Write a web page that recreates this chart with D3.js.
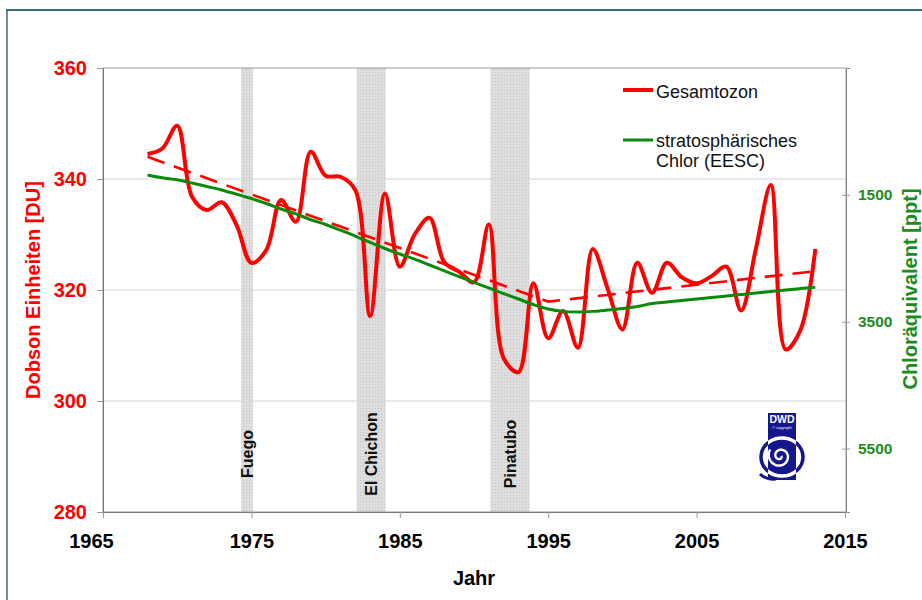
<!DOCTYPE html>
<html>
<head>
<meta charset="utf-8">
<script src="https://cdn.jsdelivr.net/npm/d3@7/dist/d3.min.js"></script>
<style>
  html, body { margin: 0; padding: 0; background: #fff; }
  svg { display: block; font-family: "Liberation Sans", Arial, sans-serif; }
</style>
</head>
<body>
<svg id="chart" width="922" height="600"></svg>
<script>
/* ============================================
   DATA
   ============================================ */

const years = [1968, 1969, 1970, 1971, 1972, 1973, 1974, 1975, 1976, 1977,
               1978, 1979, 1980, 1981, 1982, 1983, 1984, 1985, 1986, 1987,
               1988, 1989, 1990, 1991, 1992, 1993, 1994, 1995, 1996, 1997,
               1998, 1999, 2000, 2001, 2002, 2003, 2004, 2005, 2006, 2007,
               2008, 2009, 2010, 2011, 2012, 2013];

// Gesamtozon [DU]
const ozone = [344.5, 345.5, 349.6, 336.8, 334.4, 335.8, 331.7, 324.9, 327.2, 336.2,
               332.3, 344.9, 340.6, 340.4, 338.0, 315.3, 337.4, 324.2, 330.0, 333.0,
               325.0, 323.3, 321.4, 331.8, 307.7, 305.2, 321.2, 311.3, 316.2, 309.6,
               327.4, 320.3, 312.9, 324.9, 319.5, 324.9, 322.3, 321.2, 322.5, 324.2,
               316.3, 327.5, 338.9, 309.3, 312.8, 327.4];

// stratosphärisches Chlor (EESC) [ppt], secondary axis (inverted)
const eesc = [1187, 1230, 1263, 1313, 1368, 1423, 1490, 1557, 1636, 1723,
              1799, 1892, 1967, 2057, 2149, 2251, 2346, 2432, 2514, 2606,
              2697, 2789, 2880, 2968, 3056, 3142, 3229, 3300, 3337, 3345,
              3337, 3316, 3292, 3261, 3214, 3190, 3166, 3142, 3119, 3095,
              3071, 3047, 3024, 3000, 2978, 2958];

// piecewise linear ozone trend (dashed)
const trendYears = [1968, 1995, 2013];
const trendOzone = [344.0, 317.9, 323.4];

// volcanic eruptions (shaded periods)
const volcanoNames = ['Fuego', 'El Chichon', 'Pinatubo'];
const volcanoStart = [1974.3, 1982.1, 1991.1];
const volcanoEnd = [1975.1, 1984.05, 1993.75];

const yearTicks = [1965, 1975, 1985, 1995, 2005, 2015];
const duTicks = [280, 300, 320, 340, 360];
const pptTicks = [1500, 3500, 5500];

const legendLabels = [['Gesamtozon'], ['stratosphärisches', 'Chlor (EESC)']];

/* ============================================
   CHART
   ============================================ */

const Chart = (() => {
  const RED = '#ff0000';
  const GREEN = '#0a8a0a';
  const LABEL_GREEN = '#1c8c1c';
  const FONT = '"Liberation Sans", Arial, sans-serif';
  const left = 103, right = 846, top = 68, bottom = 512;

  let svg, x, yDU, yPpt;

  function init() {
    svg = d3.select('#chart');

    x = d3.scaleLinear().domain([1965, 2015]).range([left, 845]);
    yDU = d3.scaleLinear().domain([280, 360]).range([bottom, top]);
    yPpt = d3.scaleLinear().domain([-500, 6500]).range([top, bottom]);

    svg.append('rect').attr('width', 922).attr('height', 600).attr('fill', '#fff');

    // outer slide frame (top + left)
    svg.append('line')
      .attr('x1', 6).attr('x2', 922).attr('y1', 10).attr('y2', 10)
      .attr('stroke', '#3d6b81').attr('stroke-width', 2);
    svg.append('line')
      .attr('x1', 7).attr('x2', 7).attr('y1', 10).attr('y2', 600)
      .attr('stroke', '#3d6b81').attr('stroke-width', 1.5);

    // dotted fill for the volcano bands
    const defs = svg.append('defs');
    const pat = defs.append('pattern')
      .attr('id', 'dots')
      .attr('width', 3).attr('height', 3)
      .attr('patternUnits', 'userSpaceOnUse');
    pat.append('rect').attr('width', 3).attr('height', 3).attr('fill', '#dedede');
    pat.append('rect').attr('width', 1).attr('height', 1).attr('fill', '#c4c4c4');

    drawBands();
    drawGrid();
    drawSeries();
    drawAxes();
    drawLegend();
    drawLogo();
  }

  function drawBands() {
    const g = svg.append('g');
    volcanoNames.forEach((name, i) => {
      const x0 = x(volcanoStart[i]), x1 = x(volcanoEnd[i]);
      g.append('rect')
        .attr('x', x0).attr('y', top)
        .attr('width', x1 - x0).attr('height', bottom - top)
        .attr('fill', 'url(#dots)');
      const cx = (x0 + x1) / 2 + 6;
      g.append('text')
        .attr('transform', `translate(${cx},454) rotate(-90)`)
        .attr('text-anchor', 'middle')
        .attr('font-size', 16).attr('font-weight', 'bold')
        .attr('fill', '#111')
        .text(name);
    });
  }

  function drawGrid() {
    svg.append('g')
      .selectAll('line')
      .data(duTicks.filter(d => d > 280 && d < 360))
      .join('line')
      .attr('x1', left).attr('x2', right)
      .attr('y1', d => yDU(d)).attr('y2', d => yDU(d))
      .attr('stroke', '#d6d6d6').attr('stroke-width', 1);

    // plot area border
    svg.append('rect')
      .attr('x', left).attr('y', top)
      .attr('width', right - left).attr('height', bottom - top)
      .attr('fill', 'none').attr('stroke', '#9a9a9a').attr('stroke-width', 1);
  }

  function drawSeries() {
    const smooth = d3.line()
      .x(d => x(d[0]))
      .curve(d3.curveCatmullRom.alpha(0.5));

    // Gesamtozon
    svg.append('path')
      .datum(years.map((yr, i) => [yr, ozone[i]]))
      .attr('d', smooth.y(d => yDU(d[1])))
      .attr('fill', 'none').attr('stroke', RED)
      .attr('stroke-width', 4).attr('stroke-linejoin', 'round');

    // trend
    svg.append('path')
      .datum(trendYears.map((yr, i) => [yr, trendOzone[i]]))
      .attr('d', d3.line().x(d => x(d[0])).y(d => yDU(d[1])))
      .attr('fill', 'none').attr('stroke', RED)
      .attr('stroke-width', 2.6).attr('stroke-dasharray', '18,10');

    // EESC on the secondary axis
    svg.append('path')
      .datum(years.map((yr, i) => [yr, eesc[i]]))
      .attr('d', smooth.y(d => yPpt(d[1])))
      .attr('fill', 'none').attr('stroke', GREEN)
      .attr('stroke-width', 3);
  }

  function drawAxes() {
    const fmt = d3.format('d');

    const axisLeft = svg.append('g')
      .attr('transform', `translate(${left},0)`)
      .call(d3.axisLeft(yDU).tickValues(duTicks).tickFormat(fmt).tickSize(6).tickPadding(10));
    axisLeft.select('.domain').attr('stroke', '#777');
    axisLeft.selectAll('.tick line').attr('stroke', '#999');
    axisLeft.selectAll('.tick text')
      .attr('font-size', 20).attr('font-weight', 'bold')
      .attr('font-family', FONT)
      .attr('fill', RED);

    const axisBottom = svg.append('g')
      .attr('transform', `translate(0,${bottom})`)
      .call(d3.axisBottom(x).tickValues(yearTicks).tickFormat(fmt).tickSize(6).tickPadding(16));
    axisBottom.select('.domain').attr('stroke', '#777');
    axisBottom.selectAll('.tick line').attr('stroke', '#999');
    axisBottom.selectAll('.tick text')
      .attr('font-size', 20).attr('font-weight', 'bold')
      .attr('font-family', FONT)
      .attr('fill', '#000')
      .attr('dx', d => d === 1965 ? -12 : 0);

    const axisRight = svg.append('g')
      .attr('transform', `translate(${right},0)`)
      .call(d3.axisRight(yPpt).tickValues(pptTicks).tickFormat(fmt).tickSize(4).tickPadding(8));
    axisRight.select('.domain').attr('stroke', '#888');
    axisRight.selectAll('.tick line').attr('x1', -4).attr('stroke', '#999');
    axisRight.selectAll('.tick text')
      .attr('font-size', 15.5).attr('font-weight', 'bold')
      .attr('font-family', FONT)
      .attr('fill', LABEL_GREEN);

    // axis titles
    svg.append('text')
      .attr('transform', 'translate(40,290) rotate(-90)')
      .attr('text-anchor', 'middle')
      .attr('font-size', 20).attr('font-weight', 'bold')
      .attr('fill', RED)
      .text('Dobson Einheiten [DU]');

    svg.append('text')
      .attr('transform', 'translate(917,289) rotate(-90)')
      .attr('text-anchor', 'middle')
      .attr('font-size', 20).attr('font-weight', 'bold')
      .attr('fill', LABEL_GREEN)
      .text('Chloräquivalent [ppt]');

    svg.append('text')
      .attr('x', 474).attr('y', 585)
      .attr('text-anchor', 'middle')
      .attr('font-size', 20).attr('font-weight', 'bold')
      .attr('fill', '#000')
      .text('Jahr');
  }

  function drawLegend() {
    const g = svg.append('g');
    const colors = [RED, GREEN];
    const widths = [4, 3];
    const lineY = [90, 140];
    const textY = [98, 147];

    legendLabels.forEach((lines, i) => {
      g.append('line')
        .attr('x1', 623).attr('x2', 653)
        .attr('y1', lineY[i]).attr('y2', lineY[i])
        .attr('stroke', colors[i]).attr('stroke-width', widths[i]);
      const t = g.append('text')
        .attr('x', 656).attr('y', textY[i])
        .attr('font-size', 18).attr('fill', '#111');
      lines.forEach((s, j) => {
        t.append('tspan').attr('x', 656).attr('dy', j ? 19.5 : 0).text(s);
      });
    });
  }

  // DWD logo, bottom right of the plot area
  function drawLogo() {
    const NAVY = '#15168c';
    const g = svg.append('g');
    const rx = 768, ry = 413, rw = 28, rh = 67;

    g.append('ellipse')
      .attr('cx', 782).attr('cy', 457).attr('rx', 21).attr('ry', 19)
      .attr('fill', 'none').attr('stroke', NAVY).attr('stroke-width', 3.5);
    g.append('path')
      .attr('d', 'M760,474 Q766,480 776,479')
      .attr('fill', 'none').attr('stroke', NAVY).attr('stroke-width', 3);

    g.append('rect')
      .attr('x', rx).attr('y', ry).attr('width', rw).attr('height', rh)
      .attr('fill', NAVY);

    const clip = svg.select('defs').append('clipPath').attr('id', 'logo-clip');
    clip.append('rect').attr('x', rx).attr('y', ry + 18).attr('width', rw).attr('height', rh - 18);

    g.append('ellipse')
      .attr('clip-path', 'url(#logo-clip)')
      .attr('cx', 782).attr('cy', 457).attr('rx', 21).attr('ry', 19)
      .attr('fill', 'none').attr('stroke', '#fff').attr('stroke-width', 3.5);

    // spiral
    const pts = [];
    for (let t = 0; t <= Math.PI * 3.2; t += 0.1) {
      const r = 1.3 + 1.05 * t;
      pts.push([780 + r * Math.cos(t), 456 + r * Math.sin(t)]);
    }
    g.append('path')
      .attr('d', d3.line().curve(d3.curveBasis)(pts))
      .attr('fill', 'none').attr('stroke', '#fff').attr('stroke-width', 2.4);

    g.append('text')
      .attr('x', rx + rw / 2).attr('y', ry + 10)
      .attr('text-anchor', 'middle')
      .attr('font-size', 10.5).attr('font-weight', 'bold')
      .attr('fill', '#fff')
      .text('DWD');
    g.append('text')
      .attr('x', rx + rw / 2).attr('y', ry + 16)
      .attr('text-anchor', 'middle')
      .attr('font-size', 3.8).attr('fill', '#fff')
      .text('© copyright');
  }

  return { init };
})();

Chart.init();
</script>
</body>
</html>
